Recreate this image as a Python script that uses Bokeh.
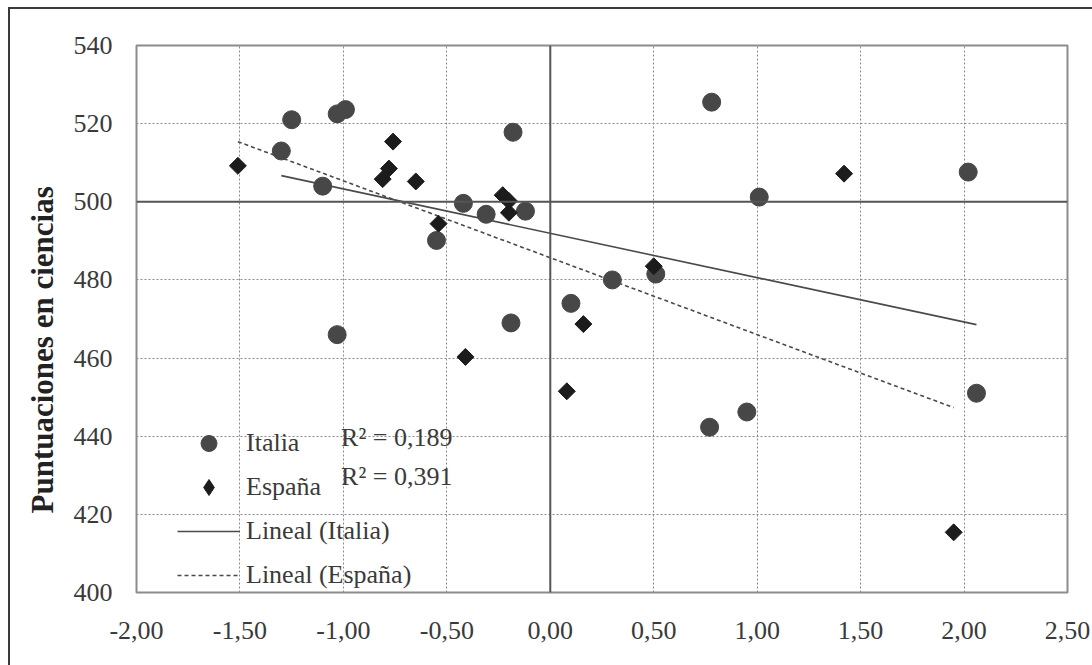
import numpy as np
from bokeh.plotting import figure
from bokeh.models import (FixedTicker, Span, Label, Legend, LegendItem, Title,
                          InlineStyleSheet, ColumnDataSource)
from bokeh.embed import file_html
from bokeh.resources import INLINE

# ---- data ----
italia_x = [-1.25, -1.30, -1.03, -0.99, -1.10, -0.18, -0.42, -0.31, -0.12, -0.55,
            0.10, -0.19, -1.03, 0.78, 1.01, 2.02, 0.30, 0.51, 0.77, 0.95, 2.06]
italia_y = [521.0, 513.0, 522.5, 523.6, 504.0, 517.8, 499.6, 496.8, 497.6, 490.1,
            474.0, 469.0, 466.0, 525.5, 501.2, 507.6, 480.0, 481.5, 442.3, 446.2, 451.0]
espana_x = [-1.51, -0.76, -0.78, -0.81, -0.65, -0.54, -0.23, -0.20, -0.20, 0.50,
            1.42, 0.16, -0.41, 0.08, 1.95]
espana_y = [509.2, 515.4, 508.5, 505.8, 505.2, 494.4, 501.7, 500.2, 497.2, 483.5,
            507.2, 468.7, 460.3, 451.5, 415.4]

series_names = ["Italia", "España"]
trend_names = ["Lineal (Italia)", "Lineal (España)"]
r2_texts = ["R² = 0,189", "R² = 0,391"]
y_axis_title = "Puntuaciones en ciencias"

x_ticks = [-2.0, -1.5, -1.0, -0.5, 0.0, 0.5, 1.0, 1.5, 2.0, 2.5]
x_tick_labels = ["-2,00", "-1,50", "-1,00", "-0,50", "0,00", "0,50", "1,00", "1,50", "2,00", "2,50"]
y_ticks = [400, 420, 440, 460, 480, 500, 520, 540]

FONT = "Liberation Serif"
TXT = "#3a3a3a"
FS = "26px"

p = figure(width=1092, height=665, x_range=(-2.0, 2.5), y_range=(400, 540),
           output_backend="svg", toolbar_location=None,
           min_border_left=136, min_border_right=25, min_border_top=45, min_border_bottom=73)
p.background_fill_color = "white"
p.border_fill_color = "white"
p.outline_line_color = "#8c8c8c"
p.outline_line_width = 2

p.stylesheets = [InlineStyleSheet(css=":host { position: relative; } :host::after { content: ''; position: absolute; left: 8px; top: 7px; right: 0; bottom: 0; border-left: 2px solid #3a3a3a; border-top: 2px solid #3a3a3a; pointer-events: none; }")]

# axes
p.xaxis.ticker = FixedTicker(ticks=x_ticks)
p.xaxis.major_label_overrides = {t: l for t, l in zip(x_ticks, x_tick_labels)}
p.yaxis.ticker = FixedTicker(ticks=y_ticks)
for ax in (p.xaxis[0], p.yaxis[0]):
    ax.axis_line_color = None
    ax.major_tick_line_color = None
    ax.minor_tick_line_color = None
    ax.major_label_text_font = FONT
    ax.major_label_text_font_size = FS
    ax.major_label_text_color = TXT
p.xaxis.major_label_standoff = 23
p.yaxis.major_label_standoff = 18

for g in (p.xgrid[0], p.ygrid[0]):
    g.grid_line_color = "#8a8a8a"
    g.grid_line_dash = "2 2"
    g.grid_line_width = 1

# y axis title (left panel title, placed like the reference)
p.add_layout(Title(text=y_axis_title, align="left", offset=79, standoff=22, text_font=FONT,
                   text_font_size="31px", text_font_style="bold", text_color="#222222"), "left")

# axis crossing lines
p.add_layout(Span(location=0, dimension="height", line_color="#555555", line_width=2))
p.add_layout(Span(location=500, dimension="width", line_color="#555555", line_width=2))

# trend lines computed from data
def trend(xs, ys):
    a, b = np.polyfit(xs, ys, 1)
    lx = np.array([min(xs), max(xs)])
    return lx, a * lx + b

tix, tiy = trend(italia_x, italia_y)
tex, tey = trend(espana_x, espana_y)
r_ti = p.line(tix, tiy, line_color="#4a4a4a", line_width=1.6)
r_te = p.line(tex, tey, line_color="#4a4a4a", line_width=1.6, line_dash="4 3")

src_i = ColumnDataSource(dict(x=italia_x, y=italia_y))
src_e = ColumnDataSource(dict(x=espana_x, y=espana_y))
r_i = p.scatter("x", "y", source=src_i, marker="circle", size=18,
                fill_color="#474747", line_color="#474747")
r_e = p.scatter("x", "y", source=src_e, marker="square", size=12, angle=np.pi / 4,
                fill_color="#1c1c1c", line_color="#1c1c1c")
# legend-only renderer (diamond symbol for the legend entry)
r_e_leg = p.scatter("x", "y", source=src_e, marker="diamond", size=20,
                    fill_color="#1c1c1c", line_color="#1c1c1c", visible=False)

legend = Legend(items=[LegendItem(label=series_names[0], renderers=[r_i]),
                       LegendItem(label=series_names[1], renderers=[r_e_leg]),
                       LegendItem(label=trend_names[0], renderers=[r_ti]),
                       LegendItem(label=trend_names[1], renderers=[r_te])],
                location=(41, -3), orientation="vertical",
                border_line_color=None, background_fill_alpha=0,
                inactive_fill_alpha=0,
                label_text_font=FONT, label_text_font_size=FS, label_text_color=TXT,
                glyph_width=63, glyph_height=40, label_height=40, spacing=4,
                padding=0, margin=0, label_standoff=6)
p.add_layout(legend)

# R² labels
p.add_layout(Label(x=-1.011, y=439.6, text=r2_texts[0], text_font=FONT, text_font_size=FS,
                   text_color=TXT, text_baseline="middle"))
p.add_layout(Label(x=-1.011, y=429.6, text=r2_texts[1], text_font=FONT, text_font_size=FS,
                   text_color=TXT, text_baseline="middle"))

open("out.html", "w").write(file_html(p, INLINE))
